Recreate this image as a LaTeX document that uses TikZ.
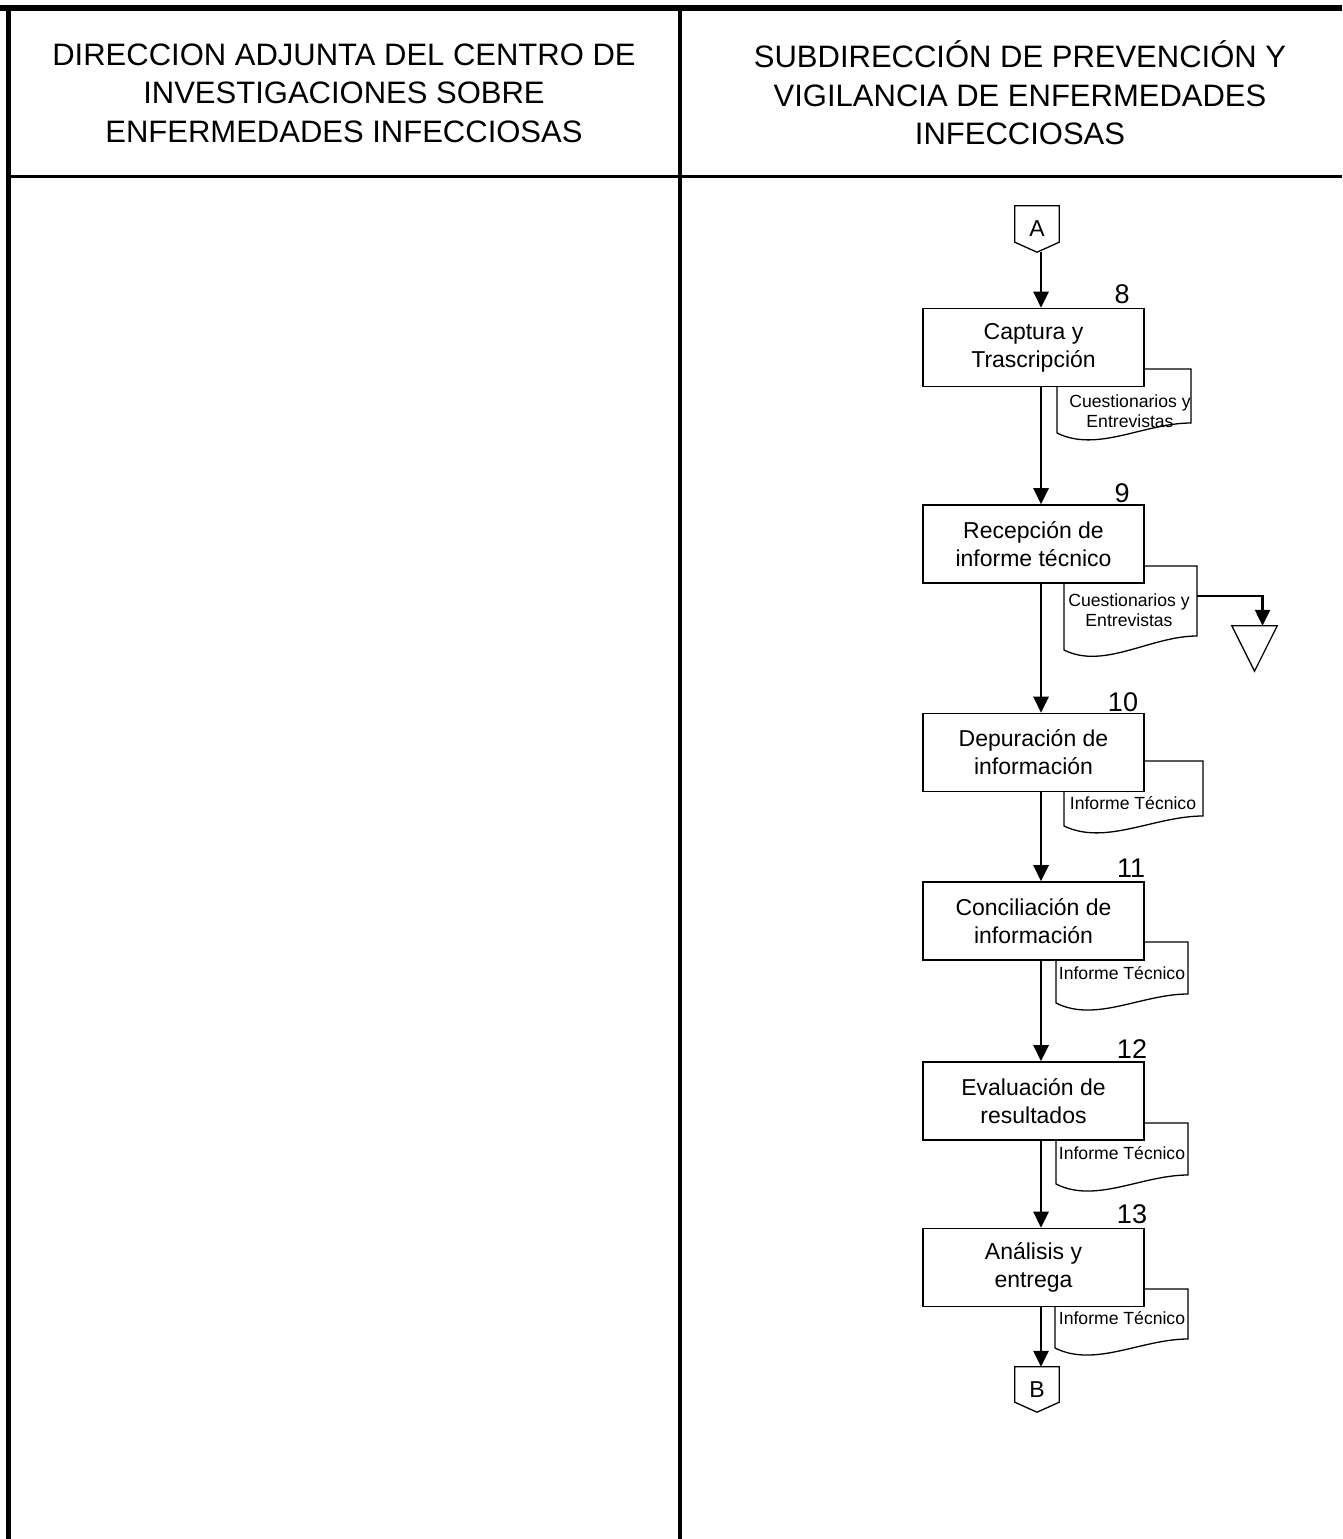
\documentclass[tikz,border=0pt]{standalone}
\usepackage{fontspec}
\setmainfont{Liberation Sans}
\usetikzlibrary{arrows.meta,calc}
\newcommand\docsh[5]{\draw[docline] (#1,#2) -- (#3,#2) -- (#3,#4) .. controls ({#1+0.65*(#3-#1)},#4) and ({#1+0.3*(#3-#1)},{#5+20}) .. (#1,#5) -- cycle;}
\begin{document}
\begin{tikzpicture}[x=1pt,y=-1pt,
  procbox/.style={draw, line width=1.6pt, fill=white, minimum width=221pt, minimum height=78pt, align=center, font=\fontsize{23}{28}\selectfont, inner sep=0pt},
  doctext/.style={font=\fontsize{17.6}{19.5}\selectfont, align=center, inner sep=0pt},
  docline/.style={draw, line width=1.3pt, line join=miter, fill=white},
  flow/.style={line width=2.7pt, -{Triangle[length=16pt,width=15pt]}},
  numlbl/.style={font=\fontsize{27}{30}\selectfont, anchor=base, inner sep=0pt},
  hdr/.style={font=\fontsize{31}{38.5}\selectfont, align=center, inner sep=0pt},
  connbox/.style={minimum width=44pt, minimum height=46pt, inner sep=0pt, font=\fontsize{23}{24}\selectfont},
  conline/.style={draw, line width=1.3pt, line join=miter},
  frameline/.style={draw, line width=#1}
]
\useasboundingbox (0,0) rectangle (1342,1539);
% frame
\draw[frameline=6pt] (0,8) -- (1342,8);
\draw[frameline=5pt] (8,5) -- (8,1539);
\draw[frameline=3.5pt] (680,8) -- (680,1539);
\draw[frameline=3.5pt] (8,176.5) -- (1342,176.5);
% headers
\node[hdr] (h1) at (344,93) {DIRECCION ADJUNTA DEL CENTRO DE\\INVESTIGACIONES SOBRE\\ENFERMEDADES INFECCIOSAS};
\node[hdr] (h2) at (1020,93) {SUBDIRECCIÓN DE PREVENCIÓN Y\\VIGILANCIA DE ENFERMEDADES\\INFECCIOSAS};
\coordinate (aline) at (1041,0);
% documents (drawn first, boxes overlap them)
\docsh{1057}{369}{1191}{423}{433}
\node[doctext] (t8) at (1130,411) {Cuestionarios y\\Entrevistas};
\docsh{1064}{566}{1197}{636}{650}
\node[doctext] (t9) at (1129,610) {Cuestionarios y\\Entrevistas};
\docsh{1064}{761}{1203}{816}{826}
\node[doctext] (t10) at (1133,803) {Informe Técnico};
\docsh{1056}{942}{1188}{994}{1003}
\node[doctext] (t11) at (1122,973) {Informe Técnico};
\docsh{1056}{1123}{1188}{1175}{1184}
\node[doctext] (t12) at (1122,1153) {Informe Técnico};
\docsh{1055}{1289}{1188}{1339}{1348}
\node[doctext] (t13) at (1122,1318) {Informe Técnico};
% process boxes
\node[procbox] (b8) at (1033.5,347.5) {Captura y\\Trascripción};
\node[procbox] (b9) at (1033.5,544) {Recepción de\\informe técnico};
\node[procbox] (b10) at (1033.5,752.5) {Depuración de\\información};
\node[procbox] (b11) at (1033.5,921) {Conciliación de\\información};
\node[procbox] (b12) at (1033.5,1101) {Evaluación de\\resultados};
\node[procbox] (b13) at (1033.5,1267.5) {Análisis y\\entrega};
% numbers
\node[numlbl] (n8) at (1122,303) {8};
\node[numlbl] (n9) at (1122,502) {9};
\node[numlbl] (n10) at (1123,711) {10};
\node[numlbl] (n11) at (1131,877) {11};
\node[numlbl] (n12) at (1132,1058) {12};
\node[numlbl] (n13) at (1132,1223) {13};
% connectors A and B
\node[connbox] (ca) at (1037,229) {A};
\draw[conline] (ca.north west) -- (ca.north east) -- ([yshift=10pt]ca.south east) -- (ca.south) -- ([yshift=10pt]ca.south west) -- cycle;
\node[connbox, minimum height=45pt] (cb) at (1037,1389.5) {B};
\draw[conline] (cb.north west) -- (cb.north east) -- ([yshift=10pt]cb.south east) -- (cb.south) -- ([yshift=10pt]cb.south west) -- cycle;
% merge triangle
\node[minimum width=45pt, minimum height=45pt, inner sep=0pt] (tri) at (1254.5,648.5) {};
\draw[conline] (tri.north west) -- (tri.north east) -- (tri.south) -- cycle;
% flow arrows
\draw[flow] (ca.south -| aline) -- (b8.north -| aline);
\draw[flow] (b8.south -| aline) -- (b9.north -| aline);
\draw[flow] (b9.south -| aline) -- (b10.north -| aline);
\draw[flow] (b10.south -| aline) -- (b11.north -| aline);
\draw[flow] (b11.south -| aline) -- (b12.north -| aline);
\draw[flow] (b12.south -| aline) -- (b13.north -| aline);
\draw[flow] (b13.south -| aline) -- (cb.north -| aline);
\coordinate (d9r) at (1197,596);
\draw[flow, line width=2.4pt] (d9r) -| ([xshift=8pt]tri.north);
\end{tikzpicture}
\end{document}
